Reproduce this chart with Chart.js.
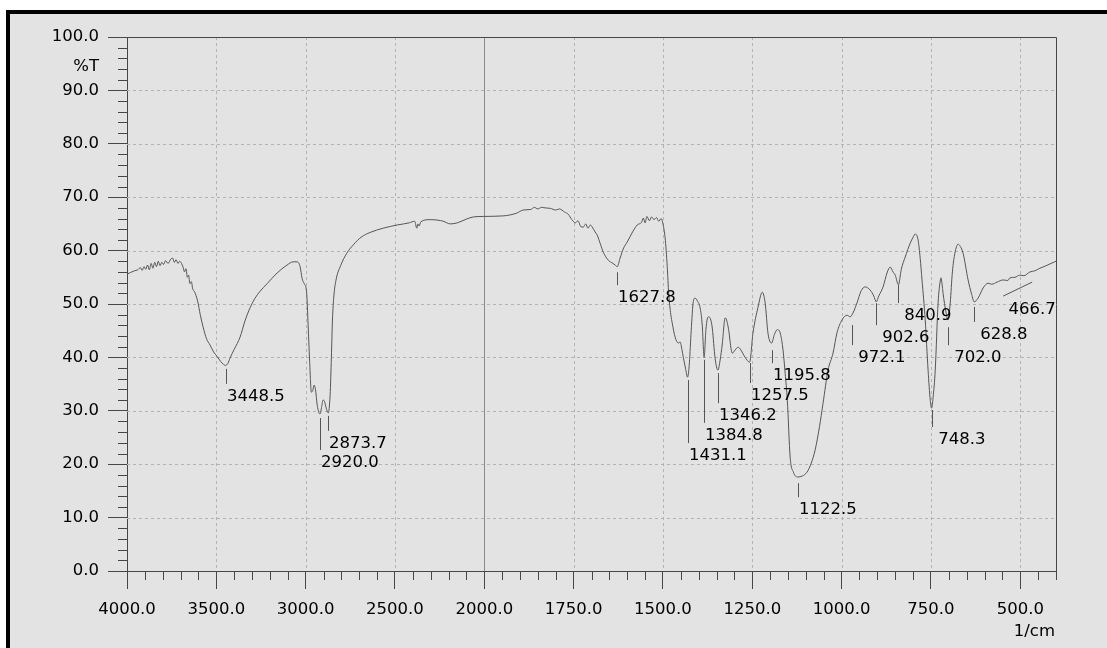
<!DOCTYPE html>
<html><head><meta charset="utf-8">
<script src="https://cdn.jsdelivr.net/npm/chart.js@4.4.0/dist/chart.umd.min.js"></script>
<style>
html,body{margin:0;padding:0;background:#fff;width:1107px;height:648px;overflow:hidden;}
#frame{position:absolute;left:6px;top:10px;width:1101px;height:638px;box-sizing:border-box;border-top:4px solid #000;border-left:4px solid #000;background:#e3e3e3;}
#wrap{position:absolute;left:0;top:0;width:1107px;height:648px;}
</style></head><body>
<div id="frame"></div>
<div id="wrap"><canvas id="c" width="1107" height="648"></canvas></div>
<script>
// ---- data ----
const wavenumbers = [4000,3980,3960,3940,3925,3915,3905,3895,3885,3875,3865,3855,3845,3835,3825,3815,3805,3795,3785,3770,3755,3745,3735,3725,3715,3705,3695,3685,3678,3670,3662,3655,3648,3640,3632,3622,3605,3590,3574,3555,3535,3515,3496,3475,3460,3448.5,3435,3423,3400,3367,3340,3311,3285,3255,3216,3160,3104,3070,3048,3031,3020,3008,2995,2986,2978,2968,2960,2953,2945,2935,2920,2910,2903,2895,2885,2873.7,2863,2856,2850,2842,2830,2804,2770,2730,2690,2639,2566,2487,2420,2390,2378,2372,2365,2355,2303,2260,2230,2190,2151,2100,2062,2006,1947,1910,1891,1870,1860,1850,1840,1830,1815,1800,1790,1775,1765,1755,1745,1738,1730,1723,1716,1710,1703,1698,1690,1684,1675,1667,1653,1640,1634,1627.8,1620,1610,1600,1585,1572,1560,1555,1550,1545,1538,1532,1525,1518,1512,1505,1500,1494,1488,1484,1478,1474,1466,1457,1452,1447,1443,1437,1431.1,1426,1421,1415,1410,1403,1396,1390,1384.8,1380,1376,1372,1366,1362,1354,1346.2,1340,1334,1326,1322,1317,1306,1298,1290,1284,1270,1257.5,1248,1234,1222,1214,1206,1196,1188,1180,1172,1164,1158,1152,1144,1135,1122.5,1110,1097,1085,1074,1062,1052,1038,1024,1013,999,985,976,967,957,945,934,920,910,903,896,884,872,864,856,850,841,833,822,808,800,794,786,780,775,766,758,752,748.3,744,738,730,724,722,719,716,708,702,696,690,683,674,668,660,646,636,629,618,604,590,580,565,548,535,529,515,501,490,473,460,445,430,404,400];
const transmittance = [55.6,55.9,56.2,56.4,56.8,56.3,57.0,56.5,57.3,56.4,57.6,56.7,57.8,57.0,58.0,57.2,57.8,57.4,58.1,57.6,58.4,58.6,57.8,58.3,57.6,58.0,57.6,56.8,56.0,56.6,55.0,55.4,53.8,54.2,52.8,52.3,50.6,48.0,45.7,43.5,42.3,41.0,40.2,39.2,38.7,38.5,38.9,39.9,41.5,43.8,46.8,49.3,51.0,52.4,53.8,55.8,57.3,57.9,57.9,57.0,54.8,53.8,52.3,46.0,39.5,33.5,33.8,34.8,34.0,31.0,29.4,30.8,32.0,31.8,30.5,29.6,33.0,40.0,47.0,51.5,54.5,57.2,59.5,61.2,62.5,63.4,64.2,64.8,65.2,65.5,64.2,65.0,64.6,65.4,65.8,65.7,65.5,65.0,65.2,65.9,66.3,66.4,66.5,67.0,67.6,67.7,68.1,67.8,68.1,68.0,67.9,67.6,67.8,67.2,66.8,65.8,65.2,65.6,64.5,64.4,65.0,64.2,64.8,64.4,63.5,62.9,61.2,59.7,58.2,57.6,57.3,57.0,58.6,60.5,61.6,63.5,64.8,65.3,66.1,65.2,66.4,65.6,66.3,65.8,66.2,65.5,66.0,65.0,62.4,57.0,52.0,48.0,46.4,43.8,42.7,42.9,41.5,40.0,38.0,36.3,39.0,45.0,50.5,51.1,50.5,49.3,46.0,40.0,45.0,47.2,47.6,47.0,45.5,39.8,37.6,39.5,42.5,47.4,47.0,45.5,40.8,41.4,41.9,41.6,40.0,39.1,44.6,49.4,52.2,50.2,44.5,42.7,44.3,45.2,44.6,41.4,37.0,32.0,21.3,18.5,17.6,17.8,18.5,20.2,22.7,27.0,31.4,37.6,40.8,44.6,47.0,47.9,47.6,48.5,50.2,52.5,53.2,52.6,51.5,50.4,51.5,53.2,56.0,56.9,56.0,55.4,53.6,56.5,58.8,61.4,62.5,63.1,62.0,58.5,54.5,47.0,37.6,32.0,30.5,32.5,37.6,50.2,54.3,54.9,53.8,52.0,48.5,47.0,50.2,56.0,59.5,61.2,60.8,59.5,54.5,51.8,50.4,51.1,53.0,53.9,53.7,54.1,54.5,54.4,54.9,55.0,55.4,55.3,56.0,56.2,56.7,57.1,57.9,58.0];

const xMajorTicks = [500,750,1000,1250,1500,1750,2000,2500,3000,3500,4000];
const xMinorTicks = [400,450,550,600,650,700,800,850,900,950,1050,1100,1150,1200,1300,1350,1400,1450,1550,1600,1650,1700,1800,1850,1900,1950,2100,2200,2300,2400,2600,2700,2800,2900,3100,3200,3300,3400,3600,3700,3800,3900];
const yMajorTicks = [0,10,20,30,40,50,60,70,80,90,100];
const yMinorTicks = [2,4,6,8,12,14,16,18,22,24,26,28,32,34,36,38,42,44,46,48,52,54,56,58,62,64,66,68,72,74,76,78,82,84,86,88,92,94,96,98];

const peakWavenumbers = [3448.5,2920.0,2873.7,1627.8,1431.1,1384.8,1346.2,1257.5,1195.8,1122.5,972.1,902.6,840.9,748.3,702.0,628.8];
const peakTransmittance = [38.6,29.4,29.8,56.7,36.5,40.3,37.8,39.7,42.1,17.2,46.8,50.9,54.3,30.9,46.4,50.2];
const leaderPeak = 466.7, leaderPeakT = 55.6;
// layout only: length of each peak marker in px
const peakMarkLength = [15,32,15,13,63,63,30,20,13,14,20,22,18,17,18,15];

// ---- broken wavenumber scale (4000-2000 at half the scale of 2000-400) ----
function brokenDecimal(v){
  const t = v <= 2000 ? (v - 400) : 1600 + (v - 2000) / 2;
  return t / 2600;
}
class BrokenXScale extends Chart.LinearScale {
  getPixelForValue(v){
    if (v === null || v === undefined || isNaN(v)) return NaN;
    return this.getPixelForDecimal(brokenDecimal(v));
  }
  getValueForPixel(p){
    const t = this.getDecimalForPixel(p) * 2600;
    return t <= 1600 ? t + 400 : 2000 + (t - 1600) * 2;
  }
}
BrokenXScale.id = 'brokenx';
BrokenXScale.defaults = Chart.LinearScale.defaults;
Chart.register(BrokenXScale);

const FONT = 'DejaVu Sans';
const FSIZE = 16.5;
const TXT = '#000';
const AXIS = '#474747';

const decorPlugin = {
  id: 'decor',
  beforeDatasetsDraw(chart){
    const {ctx, chartArea:a, scales:{x, y}} = chart;
    ctx.save();
    ctx.lineWidth = 1;
    ctx.strokeStyle = '#b3b3b3';
    ctx.setLineDash([3,3]);
    yMajorTicks.forEach(v => {
      if (v === 0 || v === 100) return;
      const py = Math.round(y.getPixelForValue(v)) + 0.5;
      ctx.beginPath(); ctx.moveTo(a.left, py); ctx.lineTo(a.right, py); ctx.stroke();
    });
    xMajorTicks.forEach(v => {
      if (v === 4000 || v === 2000) return;
      const px = Math.round(x.getPixelForValue(v)) + 0.5;
      ctx.beginPath(); ctx.moveTo(px, a.top); ctx.lineTo(px, a.bottom); ctx.stroke();
    });
    ctx.setLineDash([]);
    ctx.strokeStyle = '#8a8a8a';
    const p2 = Math.round(x.getPixelForValue(2000)) + 0.5;
    ctx.beginPath(); ctx.moveTo(p2, a.top); ctx.lineTo(p2, a.bottom); ctx.stroke();
    ctx.restore();
  },
  afterDatasetsDraw(chart){
    const {ctx, chartArea:a, scales:{x, y}} = chart;
    ctx.save();
    ctx.lineWidth = 1;
    ctx.strokeStyle = AXIS;
    ctx.beginPath();
    ctx.moveTo(Math.round(a.left)+0.5, Math.round(a.top)+0.5);
    ctx.lineTo(Math.round(a.right)+0.5, Math.round(a.top)+0.5);
    ctx.lineTo(Math.round(a.right)+0.5, Math.round(a.bottom)+0.5);
    ctx.stroke();
    xMinorTicks.forEach(v => {
      const px = Math.round(x.getPixelForValue(v)) + 0.5;
      ctx.beginPath(); ctx.moveTo(px, a.bottom); ctx.lineTo(px, a.bottom + 9); ctx.stroke();
    });
    yMinorTicks.forEach(v => {
      const py = Math.round(y.getPixelForValue(v)) + 0.5;
      ctx.beginPath(); ctx.moveTo(a.left - 9, py); ctx.lineTo(a.left, py); ctx.stroke();
    });
    ctx.font = FSIZE + 'px "' + FONT + '"';
    ctx.fillStyle = TXT;
    ctx.textAlign = 'left';
    ctx.textBaseline = 'alphabetic';
    ctx.strokeStyle = '#555';
    peakWavenumbers.forEach((w, i) => {
      const px = Math.round(x.getPixelForValue(w)) + 0.5;
      const top = y.getPixelForValue(peakTransmittance[i]) + 4;
      const bot = top + peakMarkLength[i];
      ctx.beginPath(); ctx.moveTo(px, top); ctx.lineTo(px, bot); ctx.stroke();
      ctx.fillText(w.toFixed(1).padStart(6, ' '), px + 0.5, bot + 17);
    });
    const lx = x.getPixelForValue(leaderPeak);
    const ly = y.getPixelForValue(leaderPeakT);
    ctx.beginPath(); ctx.moveTo(lx, ly + 8); ctx.lineTo(lx - 29, ly + 22); ctx.stroke();
    ctx.fillText(leaderPeak.toFixed(1).padStart(6, ' '), lx - 29, ly + 40);
    ctx.textAlign = 'right';
    ctx.fillText('1/cm', a.right - 1, a.bottom + 65);
    ctx.textBaseline = 'middle';
    ctx.fillText('%T', a.left - 28, y.getPixelForValue(94.4));
    ctx.restore();
  }
};

new Chart(document.getElementById('c'), {
  type: 'line',
  data: {
    datasets: [{
      data: wavenumbers.map((w, i) => ({x: w, y: transmittance[i]})),
      borderColor: '#555555',
      borderWidth: 1,
      pointRadius: 0,
      cubicInterpolationMode: 'monotone',
      fill: false
    }]
  },
  options: {
    responsive: false,
    animation: false,
    events: [],
    devicePixelRatio: 1,
    layout: {padding: {top: 37, right: 51, left: 0, bottom: 0}},
    plugins: {legend: {display: false}, tooltip: {enabled: false}},
    scales: {
      x: {
        type: 'brokenx',
        min: 400, max: 4000, reverse: true,
        position: 'bottom',
        afterBuildTicks: s => { s.ticks = xMajorTicks.map(v => ({value: v})); },
        afterFit: s => { s.height = 77; },
        ticks: {
          autoSkip: false, maxRotation: 0, minRotation: 0,
          padding: 11,
          color: TXT,
          font: {family: FONT, size: FSIZE},
          callback: v => Number(v).toFixed(1)
        },
        grid: {drawOnChartArea: false, drawTicks: true, tickLength: 18, tickColor: AXIS, color: AXIS, lineWidth: 1},
        border: {display: true, color: AXIS, width: 1}
      },
      y: {
        min: 0, max: 100,
        afterBuildTicks: s => { s.ticks = yMajorTicks.map(v => ({value: v})); },
        afterFit: s => { s.width = 127; },
        ticks: {
          padding: 9,
          color: TXT,
          font: {family: FONT, size: FSIZE},
          callback: v => Number(v).toFixed(1)
        },
        grid: {drawOnChartArea: false, drawTicks: true, tickLength: 19, tickColor: AXIS, color: AXIS, lineWidth: 1},
        border: {display: true, color: AXIS, width: 1}
      }
    }
  },
  plugins: [decorPlugin]
});
</script></body></html>
